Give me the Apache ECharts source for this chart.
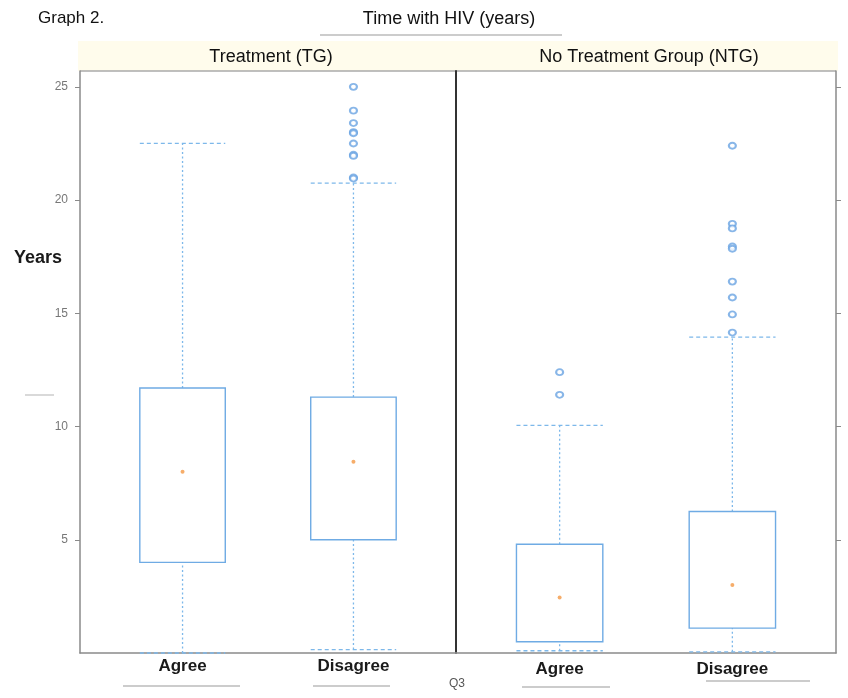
<!DOCTYPE html>
<html><head><meta charset="utf-8">
<script src="https://cdn.jsdelivr.net/npm/echarts@6/dist/echarts.min.js"></script>
<style>html,body{margin:0;padding:0;background:#fff}#c{width:848px;height:698px}</style>
</head><body><div id="c"></div>
<script>
// ---- data ----
const categories = ['Agree', 'Disagree'];
const panelNames = ['Treatment (TG)', 'No Treatment Group (NTG)'];
// each row: [lower whisker, Q1, median, Q3, upper whisker]
const tgStats = [
  [0, 4, 8, 11.7, 22.5],
  [0.15, 5, 8.45, 11.3, 20.75]
];
const ntgStats = [
  [0.1, 0.5, 2.45, 4.8, 10.05],
  [0.05, 1.1, 3, 6.25, 13.95]
];
const tgOutliers = [
  [],
  [25, 23.95, 23.4, 23, 22.95, 22.5, 22, 21.95, 21, 20.95]
];
const ntgOutliers = [
  [12.4, 11.4],
  [22.4, 18.95, 18.75, 17.95, 17.85, 16.4, 15.7, 14.95, 14.15]
];
const yTicks = [5, 10, 15, 20, 25];
const yMax = 25.7;

// ---- helpers ----
const boxWidth = 0.5;
const blue = '#6fabe4';
function boxData(stats) { return stats.map((s, i) => [i + 1].concat(s)); }
function outlierData(outs) {
  const d = [];
  outs.forEach((arr, i) => arr.forEach(v => d.push([i + 1, v])));
  return d;
}
function renderBox(params, api) {
  const x = api.value(0);
  const lo = api.value(1), q1 = api.value(2), med = api.value(3), q3 = api.value(4), hi = api.value(5);
  const hw = api.size([boxWidth, 0])[0] / 2;
  const pLo = api.coord([x, lo]), pQ1 = api.coord([x, q1]), pMed = api.coord([x, med]),
        pQ3 = api.coord([x, q3]), pHi = api.coord([x, hi]);
  const cx = pLo[0];
  const dotted = { stroke: '#7db8ea', lineWidth: 1.3, lineDash: [2, 2.5], fill: null };
  const dashed = { stroke: '#7db8ea', lineWidth: 1.3, lineDash: [4, 3], fill: null };
  return {
    type: 'group',
    children: [
      { type: 'line', shape: { x1: cx, y1: pQ3[1], x2: cx, y2: pHi[1] }, style: dotted },
      { type: 'line', shape: { x1: cx, y1: pLo[1], x2: cx, y2: pQ1[1] }, style: dotted },
      { type: 'line', shape: { x1: cx - hw, y1: pHi[1], x2: cx + hw, y2: pHi[1] }, style: dashed },
      { type: 'line', shape: { x1: cx - hw, y1: pLo[1], x2: cx + hw, y2: pLo[1] }, style: dashed },
      { type: 'rect', shape: { x: cx - hw, y: pQ3[1], width: 2 * hw, height: pQ1[1] - pQ3[1] },
        style: { stroke: blue, lineWidth: 1.4, fill: '#fff' } },
      { type: 'circle', shape: { cx: cx, cy: pMed[1], r: 2 }, style: { fill: '#f6ad6a' } }
    ]
  };
}

const gridTop = 71, gridBottom = 45;
function xAxisCfg(idx, margin) {
  return {
    gridIndex: idx, type: 'value', min: 0.4, max: 2.6,
    axisLine: { show: true, onZero: false, lineStyle: { color: '#8a8a8a', width: 1.5 } },
    axisTick: { show: false }, splitLine: { show: false },
    axisLabel: {
      customValues: [1, 2], formatter: v => categories[Math.round(v) - 1],
      fontFamily: 'Liberation Sans', fontSize: 17, fontWeight: 'bold', color: '#1a1a1a', margin: margin
    }
  };
}

const chart = echarts.init(document.getElementById('c'), null, { renderer: 'canvas' });
chart.setOption({
  animation: false,
  backgroundColor: '#fff',
  grid: [
    { left: 80, right: 392, top: gridTop, bottom: gridBottom },
    { left: 456, right: 12, top: gridTop, bottom: gridBottom }
  ],
  xAxis: [xAxisCfg(0, 5), xAxisCfg(1, 8)],
  yAxis: [
    {
      gridIndex: 0, type: 'value', min: 0, max: yMax, position: 'left',
      axisLine: { show: true, lineStyle: { color: '#8a8a8a', width: 1.5 } },
      axisTick: { show: true, customValues: yTicks, length: 5, lineStyle: { color: '#8a8a8a' } },
      axisLabel: { customValues: yTicks, fontFamily: 'Liberation Sans', fontSize: 12, color: '#777', margin: 12 },
      splitLine: { show: false }
    },
    {
      gridIndex: 1, type: 'value', min: 0, max: yMax, position: 'right',
      axisLine: { show: true, lineStyle: { color: '#8a8a8a', width: 1.5 } },
      axisTick: { show: true, customValues: yTicks, length: 5, lineStyle: { color: '#8a8a8a' } },
      axisLabel: { show: false }, splitLine: { show: false }
    },
    {
      gridIndex: 1, type: 'value', min: 0, max: yMax, position: 'left',
      axisLine: { show: true, lineStyle: { color: '#333', width: 2 } },
      axisTick: { show: false }, axisLabel: { show: false }, splitLine: { show: false }
    }
  ],
  series: [
    { type: 'custom', name: 'TG', xAxisIndex: 0, yAxisIndex: 0, renderItem: renderBox,
      data: boxData(tgStats), encode: { x: 0, y: [1, 2, 3, 4, 5] } },
    { type: 'custom', name: 'NTG', xAxisIndex: 1, yAxisIndex: 1, renderItem: renderBox,
      data: boxData(ntgStats), encode: { x: 0, y: [1, 2, 3, 4, 5] } },
    { type: 'scatter', xAxisIndex: 0, yAxisIndex: 0, data: outlierData(tgOutliers),
      symbol: 'emptyCircle', symbolSize: [7, 6], itemStyle: { color: '#6aa4e2', borderWidth: 1.2 } },
    { type: 'scatter', xAxisIndex: 1, yAxisIndex: 1, data: outlierData(ntgOutliers),
      symbol: 'emptyCircle', symbolSize: [7, 6], itemStyle: { color: '#6aa4e2', borderWidth: 1.2 } }
  ],
  graphic: [
    { type: 'rect', z: -1, shape: { x: 78, y: 41, width: 760, height: 30 }, style: { fill: '#fffcec' } },
    { type: 'line', shape: { x1: 80, y1: 71, x2: 836, y2: 71 }, style: { stroke: '#aaa', lineWidth: 1.5 } },
    { type: 'text', style: { text: 'Graph 2.', x: 38, y: 18, textVerticalAlign: 'middle',
      font: '17px "Liberation Sans"', fill: '#111' } },
    { type: 'text', style: { text: 'Time with HIV (years)', x: 449, y: 19, textAlign: 'center', textVerticalAlign: 'middle',
      font: '18px "Liberation Sans"', fill: '#111' } },
    { type: 'line', shape: { x1: 320, y1: 35, x2: 562, y2: 35 }, style: { stroke: '#ccc', lineWidth: 2 } },
    { type: 'text', style: { text: panelNames[0], x: 271, y: 57, textAlign: 'center', textVerticalAlign: 'middle',
      font: '18px "Liberation Sans"', fill: '#111' } },
    { type: 'text', style: { text: panelNames[1], x: 649, y: 57, textAlign: 'center', textVerticalAlign: 'middle',
      font: '18px "Liberation Sans"', fill: '#111' } },
    { type: 'text', style: { text: 'Years', x: 38, y: 258, textAlign: 'center', textVerticalAlign: 'middle',
      font: 'bold 18px "Liberation Sans"', fill: '#1a1a1a' } },
    { type: 'text', style: { text: 'Q3', x: 457, y: 684, textAlign: 'center', textVerticalAlign: 'middle',
      font: '12px "Liberation Sans"', fill: '#555' } },
    { type: 'line', shape: { x1: 25, y1: 395, x2: 54, y2: 395 }, style: { stroke: '#ccc', lineWidth: 1.5 } },
    { type: 'line', shape: { x1: 123, y1: 686, x2: 240, y2: 686 }, style: { stroke: '#ccc', lineWidth: 2 } },
    { type: 'line', shape: { x1: 313, y1: 686, x2: 390, y2: 686 }, style: { stroke: '#ccc', lineWidth: 2 } },
    { type: 'line', shape: { x1: 522, y1: 687, x2: 610, y2: 687 }, style: { stroke: '#ccc', lineWidth: 2 } },
    { type: 'line', shape: { x1: 706, y1: 681, x2: 810, y2: 681 }, style: { stroke: '#ccc', lineWidth: 2 } }
  ]
});
</script></body></html>
